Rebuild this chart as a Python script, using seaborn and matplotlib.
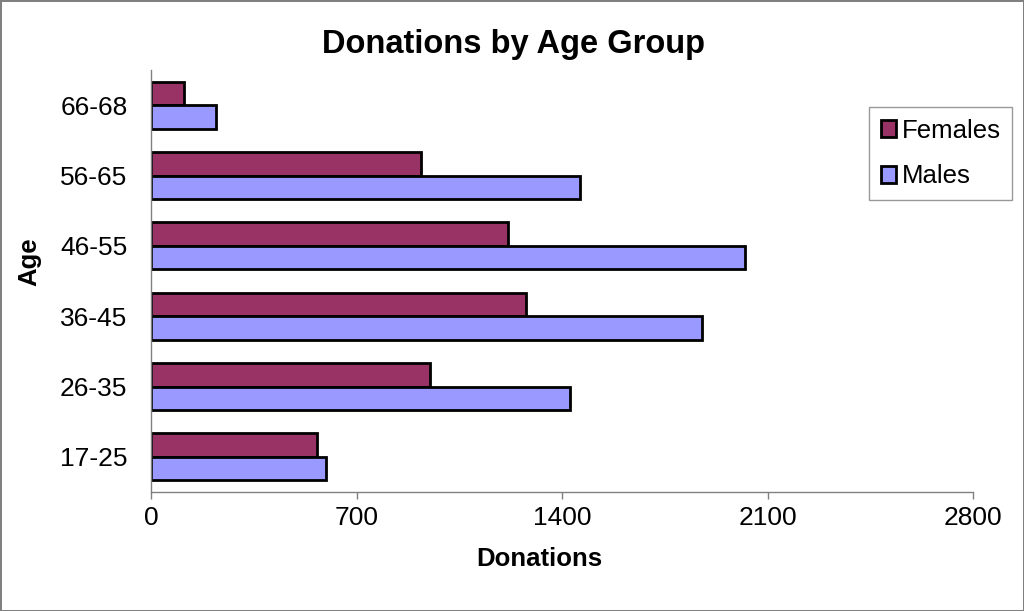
import numpy as np
import pandas as pd
import matplotlib
matplotlib.use("Agg")
import matplotlib.pyplot as plt
import seaborn as sns

# Werte
age_groups = ["66-68", "56-65", "46-55", "36-45", "26-35", "17-25"]
females = [112, 919, 1217, 1276, 950, 564]
males = [223, 1460, 2025, 1877, 1426, 596]
x_ticks = [0, 700, 1400, 2100, 2800]

df = pd.DataFrame({
    "Age": age_groups * 2,
    "Donations": females + males,
    "Sex": ["Females"] * len(age_groups) + ["Males"] * len(age_groups),
})

sns.set_style("white")
plt.rcParams["font.family"] = ["Liberation Sans", "DejaVu Sans"]
plt.rcParams["text.color"] = "black"
plt.rcParams["xtick.color"] = "black"
plt.rcParams["ytick.color"] = "black"
plt.rcParams["axes.labelcolor"] = "black"

fig = plt.figure(figsize=(10.24, 6.11), dpi=100)
fig.patch.set_edgecolor("#808080")
fig.patch.set_linewidth(2)
ax = fig.add_axes([151 / 1024, 1 - 492 / 611, 822 / 1024, 422 / 611])

sns.barplot(
    data=df, y="Age", x="Donations", hue="Sex",
    order=age_groups, hue_order=["Females", "Males"],
    palette={"Females": "#993366", "Males": "#9999FF"},
    orient="h", width=0.67, edgecolor="black", linewidth=2,
    saturation=1, errorbar=None, ax=ax,
)

ax.set_xlim(0, 2800)
ax.set_ylim(len(age_groups) - 0.5, -0.5)
ax.set_xticks(x_ticks)
ax.set_xticklabels([str(t) for t in x_ticks], fontsize=19)
ax.tick_params(axis="y", which="major", length=0, labelsize=19, pad=17)
ax.set_yticks(np.arange(-0.5, len(age_groups)), minor=True)
ax.tick_params(axis="y", which="minor", length=6, color="#808080", width=1)
ax.tick_params(axis="x", length=5, color="#808080", width=1, pad=5, bottom=True)

for side in ["top", "right"]:
    ax.spines[side].set_visible(False)
for side in ["left", "bottom"]:
    ax.spines[side].set_color("#808080")
    ax.spines[side].set_linewidth(1)

ax.set_xlabel("Donations", fontsize=18.5, fontweight="bold", va="center")
ax.xaxis.set_label_coords(0.4725, (492 - 559) / 422)
ax.set_ylabel("Age", fontsize=18.5, fontweight="bold", va="center")
ax.yaxis.set_label_coords((29 - 151) / 822, (492 - 262) / 422)
fig.text(514 / 1024, 1 - 53 / 611, "Donations by Age Group",
         ha="center", va="baseline", fontsize=23.5, fontweight="bold")

handles, labels = ax.get_legend_handles_labels()
ax.legend(handles, labels, loc="upper left",
          bbox_to_anchor=(869 / 1024, 1 - 107 / 611), bbox_transform=fig.transFigure,
          fontsize=18.5, frameon=True, fancybox=False, edgecolor="#808080",
          handlelength=0.62, handleheight=0.62, handletextpad=0.2,
          labelspacing=0.85, borderpad=0.45, borderaxespad=0)
ax.get_legend().get_frame().set_linewidth(1)

fig.savefig("out.png", dpi=100)
